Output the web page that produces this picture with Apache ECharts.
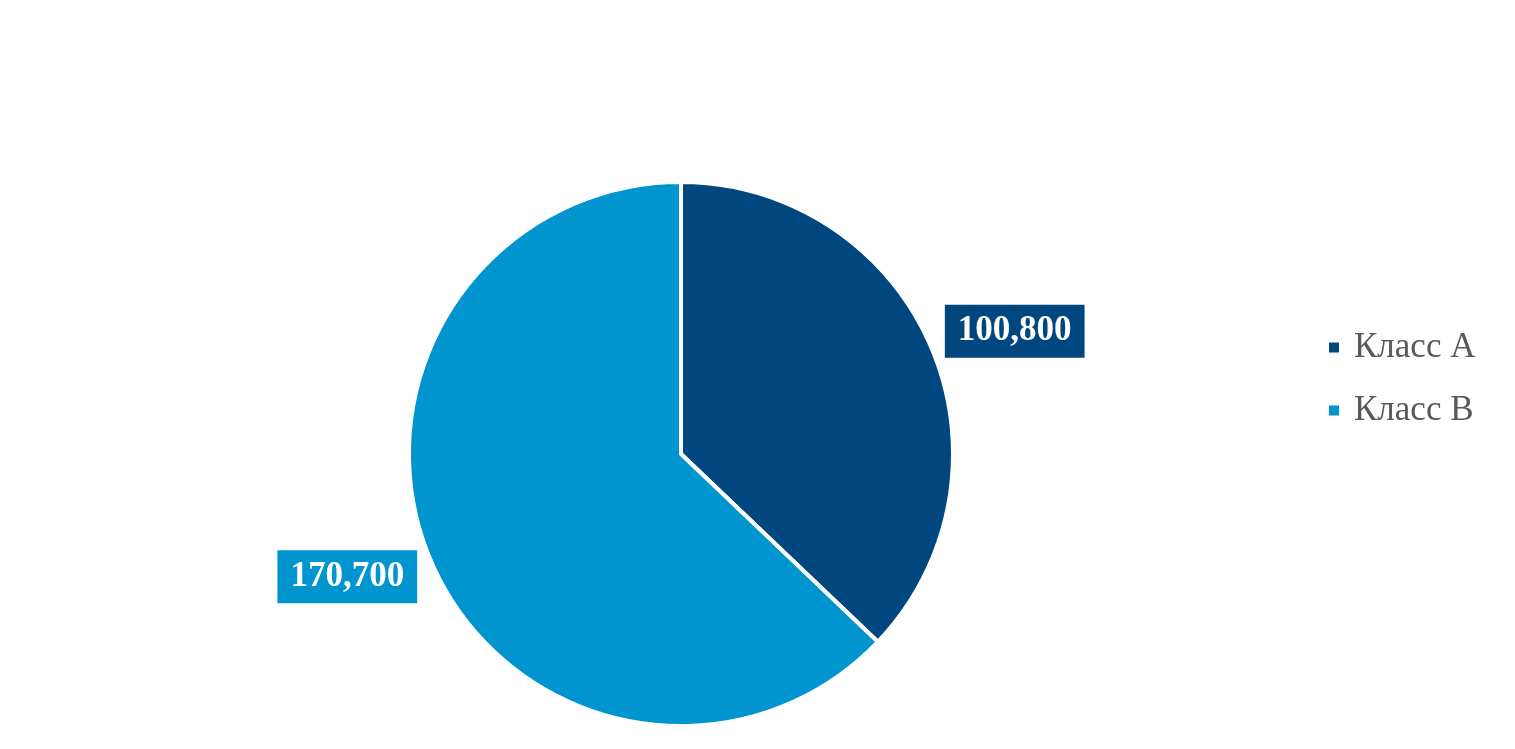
<!DOCTYPE html>
<html><head><meta charset="utf-8">
<script src="https://cdn.jsdelivr.net/npm/echarts@6/dist/echarts.min.js"></script>
<style>html,body{margin:0;padding:0;background:#fff}#c{width:1515px;height:749px}</style>
</head><body><div id="c"></div>
<script>
const categories = ['Класс А', 'Класс В'];
const values = [100800, 170700];
const colors = ['#00467F', '#0095CF'];

const chart = echarts.init(document.getElementById('c'));
chart.setOption({
  animation: false,
  legend: {
    orient: 'vertical',
    left: 1327,
    top: 330,
    padding: 0,
    icon: 'rect',
    itemWidth: 12,
    itemHeight: 12,
    itemGap: 28,
    data: categories,
    textStyle: { fontFamily: 'Liberation Serif', fontSize: 35, lineHeight: 35, color: '#595959', padding: [0,0,0,9] }
  },
  series: [{
    type: 'pie',
    center: [681, 454],
    radius: 272,
    startAngle: 90,
    clockwise: true,
    avoidLabelOverlap: false,
    itemStyle: { borderColor: '#fff', borderWidth: 4 },
    label: {
      show: true,
      position: 'outside',
      distanceToLabelLine: -23,
      formatter: p => p.value.toLocaleString('en-US'),
      fontFamily: 'Liberation Serif',
      fontWeight: 'bold',
      fontSize: 35,
      lineHeight: 35,
      color: '#fff',
      padding: [9, 13],
      backgroundColor: 'inherit'
    },
    labelLine: { show: false, length: 40, length2: 0 },
    data: categories.map((n, i) => ({ name: n, value: values[i], itemStyle: { color: colors[i] }, label: { backgroundColor: colors[i] } }))
  }]
});
</script></body></html>
